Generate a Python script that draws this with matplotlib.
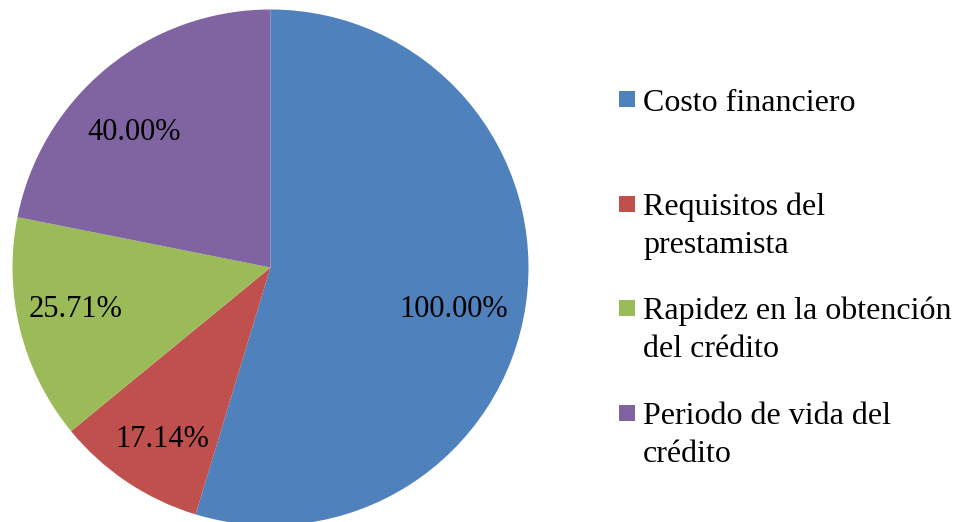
import matplotlib
matplotlib.use("Agg")
import matplotlib.pyplot as plt
from matplotlib.patches import Rectangle

categories = ["Costo financiero", "Requisitos del\nprestamista",
              "Rapidez en la obtención\ndel crédito", "Periodo de vida del\ncrédito"]
values = [100.00, 17.14, 25.71, 40.00]
colors = ["#4F81BD", "#C0504D", "#9BBB59", "#8064A2"]

plt.rcParams['font.family'] = ['Liberation Serif', 'DejaVu Serif']

W, H = 955, 522
fig = plt.figure(figsize=(W / 100, H / 100), dpi=100)

cx, cy, r = 270.5, 267.5, 258
ax = fig.add_axes([(cx - r) / W, (H - cy - r) / H, 2 * r / W, 2 * r / H])

wedges, texts, autotexts = ax.pie(
    values, colors=colors, startangle=90, counterclock=False,
    autopct=lambda p: "", pctdistance=0.75, radius=1.0,
    wedgeprops=dict(linewidth=0))

# small nudges (in pixels, x right / y down) to mimic Excel's label placement
label_nudge_px = [(-8, 14), (-1, 11), (-7, -5), (-14, 15)]
for t, v, (nx, ny) in zip(autotexts, values, label_nudge_px):
    t.set_text(f"{v:.2f}%")
    t.set_fontsize(22)
    t.set_color("black")
    x0, y0 = t.get_position()
    t.set_position((x0 + nx / r, y0 - ny / r))
ax.set_xlim(-1, 1)
ax.set_ylim(-1, 1)
ax.set_aspect("equal")
ax.axis("off")

# legend (manual layout to mimic Excel)
x_mark, x_text = 619, 643
base0, step, line_px = 111, 104.7, 37
msize = 16
for i, (lab, w) in enumerate(zip(categories, wedges)):
    yb = base0 + i * step
    ymc = yb - 12
    nlines = lab.count("\n") + 1
    fig.add_artist(Rectangle(((x_mark) / W, (H - ymc - msize / 2) / H),
                             msize / W, msize / H, transform=fig.transFigure,
                             facecolor=w.get_facecolor(), edgecolor="none"))
    ylast = yb + (nlines - 1) * line_px
    fig.text(x_text / W, (H - ylast) / H, lab, fontsize=23, va="baseline",
             ha="left", linespacing=1.41, color="black")

fig.savefig("out.png", dpi=100)
